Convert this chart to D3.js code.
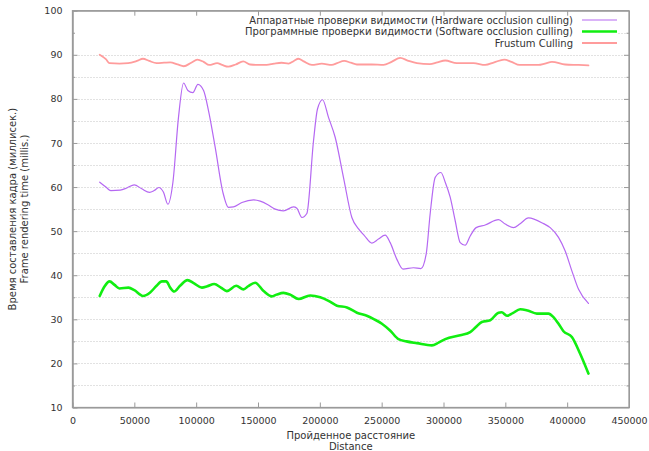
<!DOCTYPE html>
<html>
<head>
<meta charset="utf-8">
<script src="https://cdn.jsdelivr.net/npm/d3@7"></script>
<style>
  html, body { margin: 0; padding: 0; background: #fff; }
  svg text { font-family: "DejaVu Sans", sans-serif; fill: #333; }
</style>
</head>
<body>
<svg id="chart" width="649" height="451"></svg>
<script>
// ---- data (distance in units, time in ms) ----
const seriesNames = [
  "Аппаратные проверки видимости (Hardware occlusion culling)",
  "Программные проверки видимости (Software occlusion culling)",
  "Frustum Culling"
];

const hwDist = [22000,27000,31000,38600,44000,49900,56000,62300,66000,69800,73600,77100,81200,85700,89800,93300,97300,101400,106000,110000,115400,121600,126100,130200,137000,146400,151800,158000,163900,170600,178700,181400,185500,189500,194900,198100,202200,207000,212400,219100,225900,231300,236000,242100,247400,252800,256900,262300,267200,275700,281700,286000,289200,293300,297900,301400,305400,309500,313500,317500,321600,326400,333700,344500,349900,356600,362000,368700,380900,386300,393000,398400,403800,409200,417200];
const hwTime = [61.1,60.0,59.2,59.3,59.8,60.5,59.6,58.8,59.2,59.9,58.8,56.1,61.1,75.8,83.6,81.9,81.4,83.3,81.9,77.3,69.0,58.8,55.4,55.5,56.5,57.1,56.8,56.0,55.0,54.6,55.5,55.2,53.1,54.0,70.5,77.7,79.8,75.8,71.3,62.2,53.1,50.5,49.0,47.3,48.2,49.1,47.4,43.6,41.4,41.7,41.5,44.8,53.9,62.2,63.3,61.1,57.7,52.3,47.4,46.8,48.9,50.8,51.4,52.6,51.6,50.8,51.7,53.0,51.7,50.8,48.6,45.5,41.0,36.8,33.6];

const swDist = [22000,26000,30000,34000,38000,45300,50000,57000,62800,68000,72300,75800,79000,82200,87000,93000,98000,104600,109000,114600,120000,124800,132400,138300,142000,147700,154500,161200,165000,170600,176000,182700,192200,200300,207000,213800,221900,230000,238000,244000,250200,257000,263600,270000,278500,290600,296000,301400,313500,321600,326000,331000,337800,344500,347000,351300,356000,362000,368000,375500,384900,388900,393000,397000,403800,410500,417200];
const swTime = [35.3,37.5,38.6,37.8,37.0,37.2,36.6,35.3,36.1,37.6,38.6,38.6,37.2,36.3,37.6,38.9,38.2,37.2,37.5,38.0,37.2,36.4,37.6,36.8,37.5,38.3,36.4,35.2,35.6,36.0,35.6,34.6,35.4,35.0,34.2,33.1,32.7,31.5,30.8,30.0,29.0,27.4,25.5,25.0,24.6,24.1,24.7,25.5,26.4,27.1,28.2,29.4,29.8,31.5,31.6,30.8,31.4,32.3,32.0,31.3,31.3,30.5,29.0,27.3,26.0,22.2,17.7];

const fcDist = [22000,27000,30000,38000,45000,52000,57000,62000,68000,74000,79000,85000,90000,96000,101000,106000,110500,117000,121000,126000,132000,138000,143700,149000,157000,163000,169000,174700,179000,182700,187000,193600,201600,209700,214000,219700,225000,230000,242000,251500,258000,265000,271000,278500,289000,295000,301400,310800,324300,333700,341000,349100,355000,361500,376800,382000,387700,398400,409200,417200];
const fcTime = [90.0,89.0,88.1,88.0,88.1,88.6,89.1,88.6,88.1,88.2,88.3,87.8,87.4,88.2,88.9,88.4,87.7,88.1,87.7,87.3,87.8,88.5,87.8,87.7,87.7,88.0,88.2,88.0,88.6,89.1,88.5,87.7,88.0,87.7,88.1,88.6,88.2,87.8,87.8,87.7,88.4,89.3,88.7,88.1,87.9,88.3,88.7,88.1,88.1,87.7,88.3,88.9,88.4,87.7,87.7,88.0,88.4,87.8,87.7,87.6];

const xTicks = [0,50000,100000,150000,200000,250000,300000,350000,400000,450000];
const yTicks = [10,20,30,40,50,60,70,80,90,100];
const yMinorTicks = [15,25,35,45,55,65,75,85,95];
const xTitle = ["Пройденное расстояние", "Distance"];
const yTitle = ["Время составления кадра (миллисек.)", "Frame rendering time (millis.)"];

// ---- layout ----
const svg = d3.select("#chart");
const L = 72.5, R = 629, T = 10.7, B = 407.5;
const x = d3.scaleLinear().domain([0, 450000]).range([L, R]);
const y = d3.scaleLinear().domain([10, 100]).range([B, T]);

const gridColor = "#c4c4c4";
const axisColor = "#9a9a9a";

// grid lines at every 5 units
const gridVals = yTicks.concat(yMinorTicks).filter(v => v > 10 && v < 100);
svg.append("g").selectAll("line").data(gridVals).join("line")
  .attr("x1", L).attr("x2", R)
  .attr("y1", d => Math.round(y(d)) + 0.5).attr("y2", d => Math.round(y(d)) + 0.5)
  .attr("stroke", gridColor).attr("stroke-width", 1).attr("stroke-dasharray", "1,2");

// opaque key box
svg.append("rect").attr("x", L + 1).attr("y", T + 1).attr("width", 617 - L - 1).attr("height", 38)
  .attr("fill", "#fff");

// lines
const series = [
  { d: hwDist, t: hwTime, color: "#b568f2", w: 1.2 },
  { d: swDist, t: swTime, color: "#11ee11", w: 2.6 },
  { d: fcDist, t: fcTime, color: "#ff9c9c", w: 1.8 }
];
const lineGen = d3.line().x(p => x(p[0])).y(p => y(p[1])).curve(d3.curveMonotoneX);
series.forEach(s => {
  svg.append("path")
    .attr("d", lineGen(s.d.map((v, i) => [v, s.t[i]])))
    .attr("fill", "none").attr("stroke", s.color).attr("stroke-width", s.w)
    .attr("stroke-linejoin", "round").attr("stroke-linecap", "round");
});

// axes (gnuplot-like frame with inward ticks)
const axisBottom = d3.axisBottom(x).tickValues(xTicks).tickFormat(d3.format("d")).tickSizeInner(-5).tickSizeOuter(0).tickPadding(10);
const axisTop = d3.axisTop(x).tickValues(xTicks.slice(1, -1)).tickFormat("").tickSizeInner(-5).tickSizeOuter(0);
const axisLeft = d3.axisLeft(y).tickValues(yTicks).tickFormat(d3.format("d")).tickSizeInner(-5).tickSizeOuter(0).tickPadding(10);
const axisRight = d3.axisRight(y).tickValues(yTicks.slice(1, -1)).tickFormat("").tickSizeInner(-5).tickSizeOuter(0);
const axisLeftMinor = d3.axisLeft(y).tickValues(yMinorTicks).tickFormat("").tickSizeInner(-2.5).tickSizeOuter(0);
const axisRightMinor = d3.axisRight(y).tickValues(yMinorTicks).tickFormat("").tickSizeInner(-2.5).tickSizeOuter(0);

function style(g) {
  g.selectAll("path").attr("stroke", axisColor);
  g.selectAll("line").attr("stroke", axisColor);
  g.selectAll("text").attr("font-size", "9.5px").attr("fill", "#333").attr("font-family", "DejaVu Sans, sans-serif");
}
svg.append("g").attr("transform", `translate(0,${B})`).call(axisBottom).call(style);
svg.append("g").attr("transform", `translate(0,${T})`).call(axisTop).call(style);
svg.append("g").attr("transform", `translate(${L},0)`).call(axisLeft).call(style);
svg.append("g").attr("transform", `translate(${R},0)`).call(axisRight).call(style);
svg.append("g").attr("transform", `translate(${L},0)`).call(axisLeftMinor).call(style);
svg.append("g").attr("transform", `translate(${R},0)`).call(axisRightMinor).call(style);

// frame
svg.append("rect").attr("x", L).attr("y", T).attr("width", R - L).attr("height", B - T)
  .attr("fill", "none").attr("stroke", axisColor).attr("stroke-width", 1.3);

// legend
const legY = [20, 31.5, 43];
series.forEach((s, i) => {
  svg.append("text").attr("x", 573).attr("y", legY[i]).attr("dy", "0.35em")
    .attr("text-anchor", "end").attr("font-size", "10px").text(seriesNames[i]);
  svg.append("line").attr("x1", 582).attr("x2", 617).attr("y1", legY[i]).attr("y2", legY[i])
    .attr("stroke", s.color).attr("stroke-width", s.w);
});

// axis titles
xTitle.forEach((t, i) => {
  svg.append("text").attr("x", (L + R) / 2).attr("y", 435 + i * 11).attr("dy", "0.35em")
    .attr("text-anchor", "middle").attr("font-size", "10px").text(t);
});
yTitle.forEach((t, i) => {
  svg.append("text").attr("transform", `translate(${12 + i * 12},${(T + B) / 2}) rotate(-90)`)
    .attr("dy", "0.35em").attr("text-anchor", "middle").attr("font-size", "10px").text(t);
});
</script>
</body>
</html>
